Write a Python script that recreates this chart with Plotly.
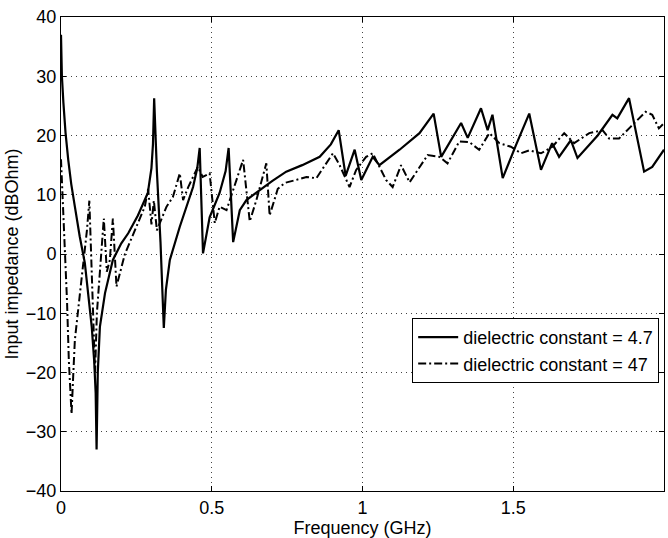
import plotly.graph_objects as go

# Frequency (GHz) and input impedance (dBOhm), dielectric constant = 4.7
freq_a = [0.000, 0.003, 0.008, 0.015, 0.024, 0.034, 0.046, 0.062, 0.079, 0.090,
          0.102, 0.110, 0.115, 0.118, 0.122, 0.129, 0.146, 0.172, 0.200, 0.223,
          0.255, 0.288, 0.300, 0.305, 0.309, 0.318, 0.330, 0.341, 0.348, 0.361,
          0.394, 0.438, 0.452, 0.460, 0.471, 0.493, 0.526, 0.546, 0.556, 0.571,
          0.593, 0.615, 0.659, 0.700, 0.747, 0.800, 0.858, 0.895, 0.921, 0.944,
          0.974, 0.996, 1.034, 1.056, 1.123, 1.189, 1.236, 1.261, 1.327, 1.349,
          1.393, 1.415, 1.431, 1.465, 1.510, 1.553, 1.592, 1.629, 1.652, 1.691,
          1.713, 1.780, 1.829, 1.845, 1.884, 1.934, 1.961, 2.000]
imp_a = [37, 30, 25.5, 20.5, 15.9, 11.8, 8, 3, -1.5, -6.6,
         -12.3, -18, -23.5, -33, -20, -12.3, -6.6, -1, 1.8, 3.5,
         6.5, 10.3, 14.5, 18.5, 26.3, 14, 2, -12.5, -6, -1,
         4.6, 11.3, 14.5, 17.9, 0.1, 6.2, 10.3, 14, 17.9, 2,
         7.4, 9.1, 10.8, 12.3, 13.9, 15, 16.4, 18.5, 20.9, 13.2,
         17.6, 12.5, 16.4, 15, 17.6, 20.4, 23.7, 16.4, 22.1, 19.6,
         24.6, 20.9, 23.5, 12.8, 18.5, 23.7, 14.2, 18.7, 16.4, 19.2,
         16.2, 20, 23.5, 22.9, 26.3, 13.9, 14.7, 17.6]

# dielectric constant = 47
freq_b = [0.000, 0.007, 0.013, 0.020, 0.026, 0.035, 0.041, 0.046, 0.063, 0.076,
          0.086, 0.094, 0.099, 0.106, 0.113, 0.119, 0.129, 0.142, 0.152, 0.162,
          0.172, 0.184, 0.212, 0.245, 0.278, 0.289, 0.300, 0.308, 0.318, 0.350,
          0.371, 0.394, 0.405, 0.422, 0.438, 0.454, 0.470, 0.493, 0.510, 0.526,
          0.549, 0.582, 0.604, 0.626, 0.648, 0.681, 0.692, 0.719, 0.742, 0.780,
          0.814, 0.847, 0.880, 0.902, 0.924, 0.957, 0.979, 1.012, 1.034, 1.078,
          1.100, 1.128, 1.156, 1.189, 1.216, 1.255, 1.282, 1.321, 1.354, 1.387,
          1.421, 1.454, 1.492, 1.526, 1.553, 1.592, 1.630, 1.669, 1.702, 1.752,
          1.796, 1.818, 1.851, 1.890, 1.939, 1.961, 1.983, 2.000]
imp_b = [16, 8, 0, -8, -18, -27, -20, -14.5, -6.6, -1,
         4, 9, 2, -8, -20, -10, -3, 6, -3, -1,
         6, -5.5, 0, 4, 8, 11, 5, 9, 4, 8,
         9.6, 13.6, 9.1, 11.3, 13, 14.7, 13, 13.6, 5.2, 8,
         7.4, 12.5, 15.9, 5.5, 9.1, 15.3, 6.5, 11, 12, 12.5,
         13, 12.8, 15.3, 17, 15, 11.3, 14.2, 16.4, 17, 12.5,
         11.3, 15, 12.1, 14.7, 16.7, 16.4, 15.3, 19, 18.9, 17.6,
         20.4, 18.7, 18.1, 17, 17.5, 17, 18.1, 20.4, 18.7, 20.4,
         20.9, 19.5, 19.5, 21.5, 24, 23.5, 21.2, 22.1]

x_ticks = [0, 0.5, 1, 1.5, 2]
x_tick_labels = ["0", "0.5", "1", "1.5", "2"]
y_ticks = [-40, -30, -20, -10, 0, 10, 20, 30, 40]

fig = go.Figure()
fig.add_trace(go.Scatter(x=freq_a, y=imp_a, mode="lines",
                         name="dielectric constant = 4.7",
                         line=dict(color="black", width=2.2)))
fig.add_trace(go.Scatter(x=freq_b, y=imp_b, mode="lines",
                         name="dielectric constant = 47",
                         line=dict(color="black", width=2, dash="8px,3px,2px,3px")))

font_family = "Liberation Sans, Arial, sans-serif"
axis_common = dict(showline=True, linecolor="black", linewidth=1, mirror="ticks",
                   ticks="inside", ticklen=5, tickcolor="black",
                   showgrid=True, gridcolor="#444444", griddash="1px,4px", gridwidth=1,
                   zeroline=False, tickfont=dict(size=18, color="black", family=font_family))

fig.update_layout(
    width=668, height=538,
    margin=dict(l=61, r=4, t=17, b=47),
    paper_bgcolor="white", plot_bgcolor="white",
    font=dict(family=font_family, color="black"),
    showlegend=True,
    legend=dict(x=0.992, y=0.365, xanchor="right", yanchor="top",
                bordercolor="black", borderwidth=1, bgcolor="white",
                font=dict(size=18, color="black", family=font_family),
                tracegroupgap=0, itemwidth=40),
)
fig.update_xaxes(range=[0, 2], tickvals=x_ticks, ticktext=x_tick_labels,
                 title=dict(text="Frequency (GHz)", font=dict(size=18), standoff=1),
                 **axis_common)
fig.update_yaxes(range=[-40, 40], tickvals=y_ticks,
                 title=dict(text="Input impedance (dBOhm)", font=dict(size=18), standoff=2),
                 **axis_common)

fig.write_html("out.html")
